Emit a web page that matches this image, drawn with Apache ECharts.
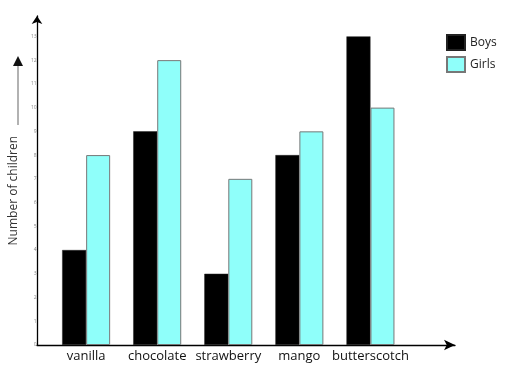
<!DOCTYPE html>
<html><head><meta charset="utf-8">
<script src="https://cdn.jsdelivr.net/npm/echarts@6/dist/echarts.min.js"></script>
<style>html,body{margin:0;padding:0;background:#fff}#c{width:512px;height:366px}</style>
</head><body><div id="c"></div>
<script>
const categories = ['vanilla', 'chocolate', 'strawberry', 'mango', 'butterscotch'];
const boys = [4, 9, 3, 8, 13];
const girls = [8, 12, 7, 9, 10];
const yTicks = [0, 13, 1];

const chart = echarts.init(document.getElementById('c'));
const font = '"Open Sans", "Noto Sans", sans-serif';
chart.setOption({
  animation: false,
  textStyle: { fontFamily: font },
  legend: {
    orient: 'vertical', left: 441, top: 29, itemWidth: 18, itemHeight: 15, itemGap: 5,
    icon: 'rect',
    textStyle: { fontSize: 12, color: '#222', fontFamily: font },
    data: ['Boys', 'Girls']
  },
  grid: [
    { left: 49, right: 106, top: 36.4, bottom: 21 },
    { left: 37, right: 57, top: 16, bottom: 21 }
  ],
  xAxis: [
    { type: 'category', gridIndex: 0, data: categories,
      axisLine: { show: false }, axisTick: { show: false },
      axisLabel: { interval: 0, margin: 5, fontSize: 13, color: '#111', fontFamily: font } },
    { type: 'value', gridIndex: 1, min: 0, max: 1,
      axisLine: { show: true, lineStyle: { color: '#000', width: 1.3 }, symbol: ['none', 'arrow'], symbolSize: [8, 11] },
      axisTick: { show: false }, axisLabel: { show: false }, splitLine: { show: false } }
  ],
  yAxis: [
    { type: 'value', gridIndex: 0, min: yTicks[0], max: yTicks[1], interval: yTicks[2],
      name: 'Number of children', nameLocation: 'middle', nameGap: 23,
      nameTextStyle: { fontSize: 12, color: '#333', fontFamily: font },
      axisLine: { show: false }, axisTick: { show: false }, splitLine: { show: false },
      axisLabel: { margin: 14, fontSize: 5, color: '#888' } },
    { type: 'value', gridIndex: 1, min: 0, max: 1,
      axisLine: { show: true, lineStyle: { color: '#000', width: 1.3 }, symbol: ['none', 'arrow'], symbolSize: [8, 8] },
      axisTick: { show: false }, axisLabel: { show: false }, splitLine: { show: false } }
  ],
  graphic: [
    { type: 'line', shape: { x1: 18, y1: 125, x2: 18, y2: 64 }, style: { stroke: '#999', lineWidth: 1.5 } },
    { type: 'polygon', shape: { points: [[13, 66], [18, 56], [23, 66]] }, style: { fill: '#111' } }
  ],
  series: [
    { name: 'Boys', type: 'bar', xAxisIndex: 0, yAxisIndex: 0, data: boys, barWidth: 24, barGap: '0%',
      itemStyle: { color: '#000', borderColor: '#222', borderWidth: 0.5 } },
    { name: 'Girls', type: 'bar', xAxisIndex: 0, yAxisIndex: 0, data: girls, barWidth: 24, barGap: '0%',
      itemStyle: { color: '#8ffffa', borderColor: '#777', borderWidth: 1 } }
  ]
});
</script></body></html>
